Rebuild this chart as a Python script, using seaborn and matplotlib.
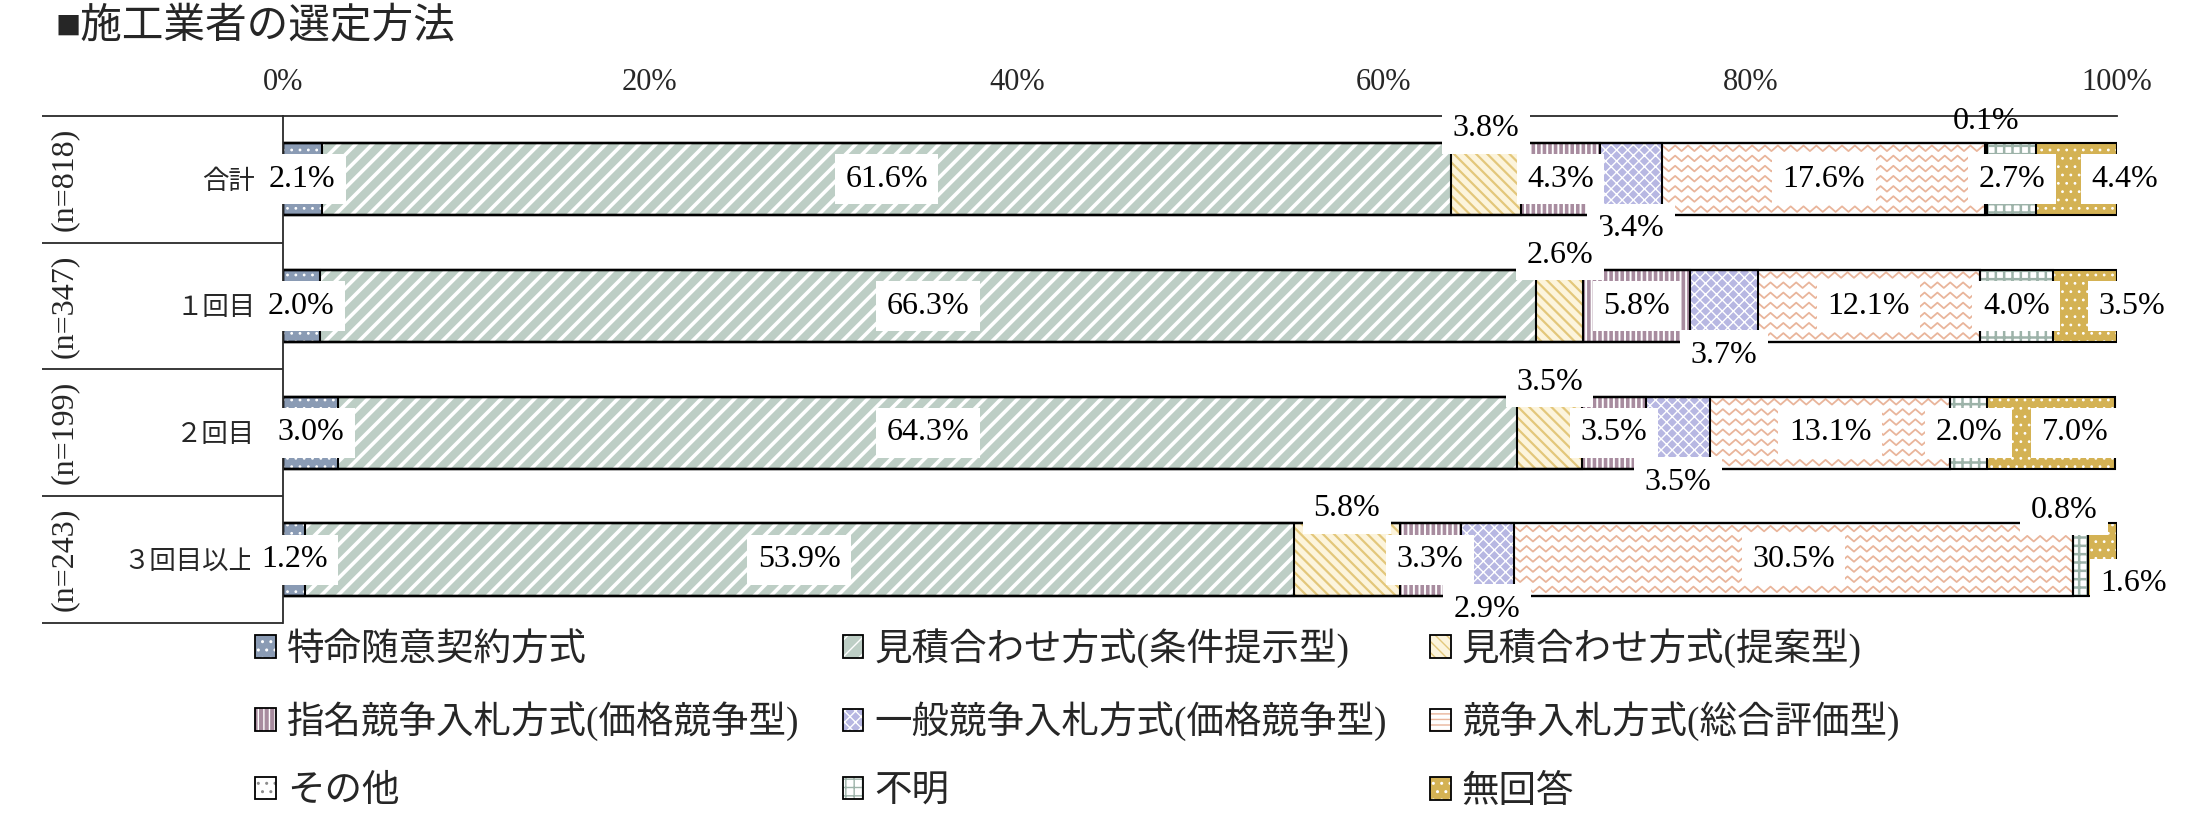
import numpy as np
import matplotlib
matplotlib.use('Agg')
import matplotlib.pyplot as plt
import matplotlib.patches as mpatches
import seaborn as sns

# ----------------------------------------------------------------------
# Data (percent of respondents per row)
# ----------------------------------------------------------------------
TITLE = '■施工業者の選定方法'
ROWS = ['合計', '１回目', '２回目', '３回目以上']
ROW_N = ['(n=818)', '(n=347)', '(n=199)', '(n=243)']
METHODS = ['特命随意契約方式', '見積合わせ方式(条件提示型)', '見積合わせ方式(提案型)',
           '指名競争入札方式(価格競争型)', '一般競争入札方式(価格競争型)',
           '競争入札方式(総合評価型)', 'その他', '不明', '無回答']

tokumei   = [2.1, 2.0, 3.0, 1.2]
mitsu_jo  = [61.6, 66.3, 64.3, 53.9]
mitsu_tei = [3.8, 2.6, 3.5, 5.8]
shimei    = [4.3, 5.8, 3.5, 3.3]
ippan     = [3.4, 3.7, 3.5, 2.9]
sogo      = [17.6, 12.1, 13.1, 30.5]
sonota    = [0.1, 0.0, 0.0, 0.0]
fumei     = [2.7, 4.0, 2.0, 0.8]
mukaito   = [4.4, 3.5, 7.0, 1.6]

X_TICKS = [0, 20, 40, 60, 80, 100]

# ----------------------------------------------------------------------
# Styles
# ----------------------------------------------------------------------
# face colour, hatch, hatch colour, hatch linewidth
STYLES = [
    ('#8A9BB4', '..', 'white', 0.8),
    ('#BDCEC5', '//', 'white', 2.6),
    ('#FCF4DC', '\\\\\\', '#E3C77B', 1.6),
    ('#A88C9F', '|||', 'white', 1.4),
    ('#B7B7E2', 'xxx', 'white', 1.0),
    ('white', '', '#E9B59B', 1.0),      # zigzag drawn by hand below
    ('white', '..', '#8C8C8C', 1.0),
    ('white', '++', '#9DB3A9', 1.8),
    ('#D4B254', '..', 'white', 0.8),
]
LEGEND_HATCH = {5: '---'}

# label offsets (data units): default by method, overrides by (row, method)
NUDGE_BY_METHOD = {2: (0, -0.40), 4: (0, 0.39), 6: (0, -0.46)}
NUDGE = {(3, 7): (-0.9, -0.39), (3, 8): (1.7, 0.19),
         (0, 8): (2.6, 0), (1, 8): (2.55, 0), (2, 8): (1.3, 0)}
NO_BOX = {6}

BAR_W = 0.57
LINE_C = '#2A2A2A'

sns.set_style('white')
plt.rcParams['font.family'] = ['Liberation Serif', 'Noto Sans CJK JP']

fig = plt.figure(figsize=(21.86, 8.26), dpi=100)
ax = fig.add_axes([0.1295, 0.2458, 0.839, 0.6138])

values = np.array([tokumei, mitsu_jo, mitsu_tei, shimei, ippan,
                   sogo, sonota, fumei, mukaito])
cum = values.cumsum(axis=0)
left = cum - values

# filled + hatched layers, drawn from the longest cumulative bar down
for i in range(len(METHODS) - 1, -1, -1):
    face, hatch, hcol, hlw = STYLES[i]
    n0 = len(ax.patches)
    with plt.rc_context({'hatch.linewidth': hlw}):
        sns.barplot(x=cum[i], y=ROWS, orient='h', color=face, saturation=1,
                    width=BAR_W, hatch=hatch, edgecolor=hcol, linewidth=0,
                    errorbar=None, ax=ax)
    new = ax.patches[n0:]
    for p in new:
        p.set_facecolor(face)
        if hasattr(p, 'set_hatch_linewidth'):
            p.set_hatch_linewidth(hlw)
    if i == 5:
        # zigzag texture for the 総合評価型 segments
        for r, p in enumerate(new):
            if values[i, r] <= 0:
                continue
            y0, h = p.get_y(), p.get_height()
            clip = mpatches.Rectangle((left[i, r], y0), values[i, r], h,
                                      transform=ax.transData)
            xs = np.arange(left[i, r], cum[i, r] + 0.7, 0.35)
            wiggle = np.where(np.arange(len(xs)) % 2 == 0, -0.022, 0.022)
            for yy in np.arange(y0 + 0.04, y0 + h, 0.08):
                ln, = ax.plot(xs, yy + wiggle, color=hcol, lw=1.3, zorder=1.5)
                ln.set_clip_path(clip)

# black outlines for every segment boundary
for i in range(len(METHODS)):
    n0 = len(ax.patches)
    sns.barplot(x=cum[i], y=ROWS, orient='h', fill=False, color='black',
                linewidth=1.5, width=BAR_W, errorbar=None, ax=ax)
    for p in ax.patches[n0:]:
        p.set_zorder(2)

# value labels
for r in range(len(ROWS)):
    for i in range(len(METHODS)):
        v = values[i, r]
        if v <= 0:
            continue
        dx, dy = NUDGE.get((r, i), NUDGE_BY_METHOD.get(i, (0, 0)))
        box = None if i in NO_BOX else dict(boxstyle='square,pad=0.33',
                                             facecolor='white', edgecolor='none')
        ax.text(left[i, r] + v / 2 + dx, r + dy, f'{v:.1f}%', ha='center',
                va='center', fontsize=23, color='black', bbox=box, zorder=5)

# axes styling
ax.set_xlim(0, 100)
ax.set_ylim(len(ROWS) - 0.5, -0.5)
ax.set_xlabel('')
ax.set_ylabel('')
ax.xaxis.tick_top()
ax.set_xticks(X_TICKS)
ax.set_xticklabels([f'{t}%' for t in X_TICKS])
ax.tick_params(axis='x', length=0, pad=14, labelsize=22)
ax.tick_params(axis='y', length=0, pad=20, labelsize=19)
for side in ['right', 'bottom']:
    ax.spines[side].set_visible(False)
for side in ['top', 'left']:
    ax.spines[side].set_color(LINE_C)
    ax.spines[side].set_linewidth(1.3)

# left table: row separators and n counts
bounds = np.arange(len(ROWS) + 1) - 0.5
ax.hlines(bounds, -0.1314, 0, transform=ax.get_yaxis_transform(),
          color=LINE_C, lw=1.3, clip_on=False)
for r, lab in enumerate(ROW_N):
    ax.text(-0.119, r, lab, transform=ax.get_yaxis_transform(), rotation=90,
            ha='center', va='center', fontsize=23)

fig.text(56 / 2186, 0.966, TITLE, fontsize=30, ha='left', va='center')

# legend (3 columns, row-major order)
handles = []
for i, (face, hatch, hcol, hlw) in enumerate(STYLES):
    fill = mpatches.Patch(facecolor=face, hatch=LEGEND_HATCH.get(i, hatch),
                          edgecolor=hcol, linewidth=0)
    edge = mpatches.Patch(fill=False, edgecolor='black', linewidth=1.3)
    handles.append((fill, edge))
order = [0, 3, 6, 1, 4, 7, 2, 5, 8]
fig.legend([handles[k] for k in order], [METHODS[k] for k in order], ncol=3,
           loc='upper left', bbox_to_anchor=(255 / 2186, 0.240), frameon=False,
           fontsize=27, handlelength=0.55, handleheight=0.55, handletextpad=0.3,
           columnspacing=1.15, labelspacing=0.9, borderpad=0, borderaxespad=0)

fig.savefig('out.png', dpi=100)
